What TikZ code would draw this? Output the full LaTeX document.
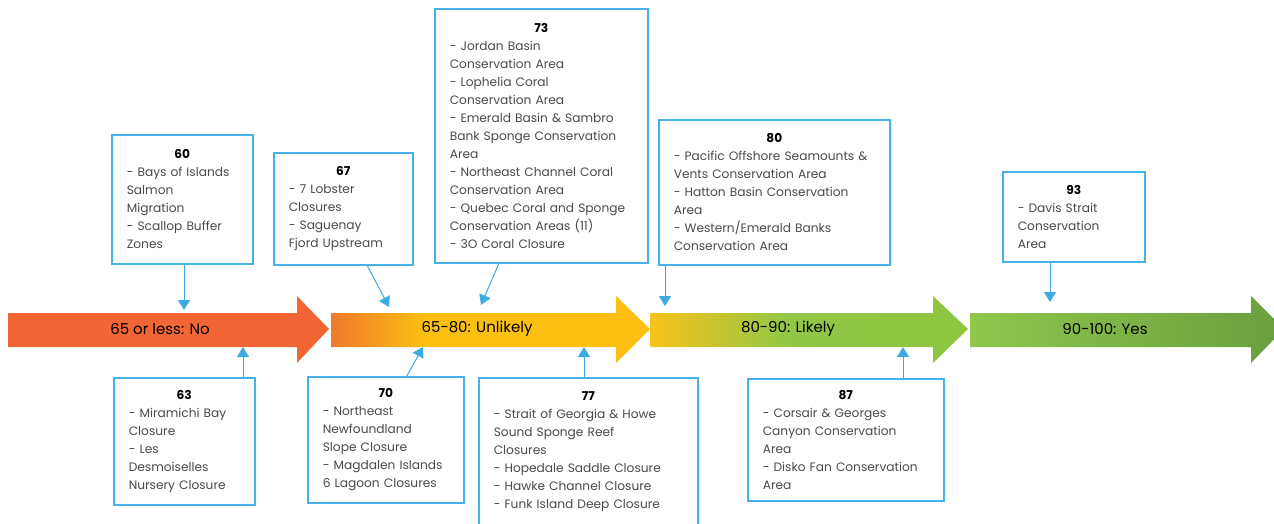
\documentclass[tikz,border=0pt]{standalone}
\usepackage{fontspec}
\setmainfont{Poppins}
\usetikzlibrary{arrows.meta}
\usepackage{xcolor}

\definecolor{boxblue}{HTML}{45B1E6}
\definecolor{linkblue}{HTML}{3AACE3}
\definecolor{itemgray}{HTML}{4A4A4A}
\definecolor{noRed}{HTML}{F26535}
\definecolor{unlikelyA}{HTML}{F07A2B}
\definecolor{unlikelyB}{HTML}{FDC012}
\definecolor{likelyA}{HTML}{F9C31B}
\definecolor{likelyB}{HTML}{90C746}
\definecolor{likelyC}{HTML}{8DC63F}
\definecolor{yesA}{HTML}{8EC74C}
\definecolor{yesB}{HTML}{6A9E3F}

\pgfdeclarehorizontalshading{unlikelyshade}{100bp}{color(0bp)=(unlikelyA); color(25bp)=(unlikelyA); color(40bp)=(unlikelyB); color(75bp)=(unlikelyB); color(100bp)=(unlikelyB)}
\pgfdeclarehorizontalshading{likelyshade}{100bp}{color(0bp)=(likelyA); color(25bp)=(likelyA); color(47bp)=(likelyB); color(75bp)=(likelyC); color(100bp)=(likelyC)}

\begin{document}
\begin{tikzpicture}[x=1pt,y=-1pt,
    scorebox/.style={draw=boxblue, line width=1.6pt, fill=white, anchor=north west,
        align=left, inner xsep=15pt, inner ysep=0pt, text=itemgray,
        font={\fontsize{12.2}{18}\selectfont\hyphenpenalty=10000\relax}},
    link/.style={draw=linkblue, line width=1pt, -{Triangle[length=10pt,width=12pt]}},
    barlabel/.style={font=\fontsize{15}{16}\selectfont, text=black}]
        \useasboundingbox (0,0) rectangle (1274,523);

        % score bars
        \fill[noRed] (8,313) -- (297,313) -- (297,296) -- (329,329) -- (297,363) -- (297,347) -- (8,347) -- cycle;
        \shade[shading=unlikelyshade] (331,313) -- (616,313) -- (616,296) -- (650,329) -- (616,363) -- (616,347) -- (331,347) -- cycle;
        \shade[shading=likelyshade] (650,313) -- (933,313) -- (933,296) -- (968,329) -- (933,363) -- (933,347) -- (650,347) -- cycle;
        \shade[left color=yesA, right color=yesB] (970,313) -- (1251,313) -- (1251,296) -- (1284,329) -- (1251,363) -- (1251,347) -- (970,347) -- cycle;

        \node[barlabel] (no) at (160,329) {65 or less: No};
        \node[barlabel] (unlikely) at (477,329) {65-80: Unlikely};
        \node[barlabel] (likely) at (788,329) {80-90: Likely};
        \node[barlabel] (yes) at (1105,329) {90-100: Yes};

        % boxes above
        \node[scorebox, text width=111pt, minimum height=129pt] (b60) at (111,134)
            {\makebox[\linewidth]{\textcolor{black}{\bfseries 60}}\\- Bays of Islands\\Salmon\\Migration\\- Scallop Buffer\\Zones};
        \node[scorebox, text width=109pt, minimum height=112pt] (b67) at (273,152)
            {\makebox[\linewidth]{\textcolor{black}{\bfseries 67}}\\- 7 Lobster\\Closures\\- Saguenay\\Fjord Upstream};
        \node[scorebox, text width=183pt, minimum height=254pt] (b73) at (434,8)
            {\makebox[\linewidth]{\textcolor{black}{\bfseries 73}}\\- Jordan Basin\\Conservation Area\\- Lophelia Coral\\Conservation Area\\- Emerald Basin \& Sambro\\Bank Sponge Conservation\\Area\\- Northeast Channel Coral\\Conservation Area\\- Quebec Coral and Sponge\\Conservation Areas (11)\\- 3O Coral Closure};
        \node[scorebox, text width=201pt, minimum height=145pt] (b80) at (658,119)
            {\makebox[\linewidth]{\textcolor{black}{\bfseries 80}}\\- Pacific Offshore Seamounts \&\\Vents Conservation Area\\- Hatton Basin Conservation\\Area\\- Western/Emerald Banks\\Conservation Area};
        \node[scorebox, text width=112pt, minimum height=90pt] (b93) at (1002,171)
            {\makebox[\linewidth]{\textcolor{black}{\bfseries 93}}\\- Davis Strait\\Conservation\\Area};

        % boxes below
        \node[scorebox, text width=111pt, minimum height=127pt] (b63) at (113,377)
            {\makebox[\linewidth]{\textcolor{black}{\bfseries 63}}\\- Miramichi Bay\\Closure\\- Les\\Desmoiselles\\Nursery Closure};
        \node[scorebox, text width=126pt, minimum height=126pt] (b70) at (307,376)
            {\makebox[\linewidth]{\textcolor{black}{\bfseries 70}}\\- Northeast\\Newfoundland\\Slope Closure\\- Magdalen Islands\\6 Lagoon Closures};
        \node[scorebox, text width=189pt, minimum height=148pt] (b77) at (478,377)
            {\makebox[\linewidth]{\textcolor{black}{\bfseries 77}}\\- Strait of Georgia \& Howe\\Sound Sponge Reef\\Closures\\- Hopedale Saddle Closure\\- Hawke Channel Closure\\- Funk Island Deep Closure};
        \node[scorebox, text width=166pt, minimum height=122pt] (b87) at (747,378)
            {\makebox[\linewidth]{\textcolor{black}{\bfseries 87}}\\- Corsair \& Georges\\Canyon Conservation\\Area\\- Disko Fan Conservation\\Area};

        % connectors
        \coordinate (t60) at (184,310);
        \coordinate (t67) at (389,307);
        \coordinate (t73) at (481,305);
        \coordinate (t80) at (665,306);
        \coordinate (t93) at (1050,302);
        \coordinate (t63) at (243,347);
        \coordinate (t70) at (423,347);
        \coordinate (t77) at (584,347);
        \coordinate (t87) at (903,347);

        \draw[link] (b60.south -| t60) -- (t60);
        \draw[link] ([xshift=24]b67.south) -- (t67);
        \draw[link] ([xshift=-42.5]b73.south) -- (t73);
        \draw[link] (b80.south -| t80) -- (t80);
        \draw[link] (b93.south -| t93) -- (t93);
        \draw[link] (b63.north -| t63) -- (t63);
        \draw[link] ([xshift=21]b70.north) -- (t70);
        \draw[link] (b77.north -| t77) -- (t77);
        \draw[link] (b87.north -| t87) -- (t87);
    \end{tikzpicture}
\end{document}
